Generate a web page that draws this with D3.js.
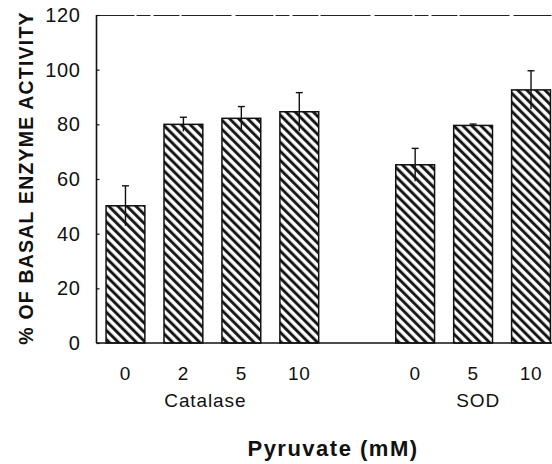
<!DOCTYPE html>
<html>
<head>
<meta charset="utf-8">
<script src="https://cdn.jsdelivr.net/npm/d3@7"></script>
<style>
  html, body { margin: 0; padding: 0; background: #fff; }
  svg { display: block; }
  text { font-family: "Liberation Sans", Arial, Helvetica, sans-serif; fill: #111; }
</style>
</head>
<body>
<svg id="chart" width="552" height="464"></svg>
<script>
// ---- Data ----
const catalaseDoses = ["0", "2", "5", "10"];
const catalaseMeans = [50.2, 80.0, 82.2, 84.6];
const catalaseErrors = [7.3, 2.6, 4.3, 7.0];

const sodDoses = ["0", "5", "10"];
const sodMeans = [65.2, 79.6, 92.6];
const sodErrors = [6.0, 0.5, 7.0];

const groupNames = ["Catalase", "SOD"];
const yTicks = [0, 20, 40, 60, 80, 100, 120];
const yLabel = "% OF BASAL ENZYME ACTIVITY";
const xLabel = "Pyruvate (mM)";

(function () {
// ---- Build rows ----
const rows = [];
catalaseDoses.forEach((d, i) => rows.push({key: "Catalase|" + d, group: "Catalase", dose: d, mean: catalaseMeans[i], err: catalaseErrors[i]}));
const gapKey = "gap";
sodDoses.forEach((d, i) => rows.push({key: "SOD|" + d, group: "SOD", dose: d, mean: sodMeans[i], err: sodErrors[i]}));
const slots = [...catalaseDoses.map(d => "Catalase|" + d), gapKey, ...sodDoses.map(d => "SOD|" + d)];

// ---- Layout ----
const svg = d3.select("#chart");
const mLeft = 96.5, mRight = 560, mTop = 15, mBottom = 343;

const x = d3.scaleBand().domain(slots).range([mLeft, mRight]).paddingInner(0.33).paddingOuter(0.165);
const y = d3.scaleLinear().domain([0, 120]).range([mBottom, mTop]);

// hatch pattern
const defs = svg.append("defs");
const pat = defs.append("pattern")
  .attr("id", "hatch")
  .attr("patternUnits", "userSpaceOnUse")
  .attr("width", 6.4).attr("height", 10)
  .attr("patternTransform", "rotate(-45)");
pat.append("rect").attr("width", 6.4).attr("height", 10).attr("fill", "#fff");
pat.append("line").attr("x1", 1.6).attr("x2", 1.6).attr("y1", -1).attr("y2", 11)
  .attr("stroke", "#111").attr("stroke-width", 2.9);

// top frame line
svg.append("line")
  .attr("x1", mLeft).attr("x2", 552).attr("y1", y(120) + 0.5).attr("y2", y(120) + 0.5)
  .attr("stroke", "#222").attr("stroke-width", 1.1)
  .attr("stroke-dasharray", "38,2,14,3,26,2,50,4");

// bars
svg.append("g").selectAll("rect").data(rows).join("rect")
  .attr("x", d => x(d.key))
  .attr("width", x.bandwidth())
  .attr("y", d => y(d.mean))
  .attr("height", d => y(0) - y(d.mean))
  .attr("fill", "url(#hatch)")
  .attr("stroke", "#111").attr("stroke-width", 1.5);

// error bars
const eg = svg.append("g").attr("stroke", "#111").attr("stroke-width", 1.4);
eg.selectAll("line.v").data(rows).join("line").attr("class", "v")
  .attr("x1", d => x(d.key) + x.bandwidth() / 2).attr("x2", d => x(d.key) + x.bandwidth() / 2)
  .attr("y1", d => y(d.mean + d.err)).attr("y2", d => y(d.mean - d.err));
eg.selectAll("line.c").data(rows).join("line").attr("class", "c")
  .attr("x1", d => x(d.key) + x.bandwidth() / 2 - 3.5).attr("x2", d => x(d.key) + x.bandwidth() / 2 + 3.5)
  .attr("y1", d => y(d.mean + d.err)).attr("y2", d => y(d.mean + d.err));

// y axis
const yAxis = d3.axisLeft(y).tickValues(yTicks).tickSize(-3).tickPadding(16).tickFormat(d3.format("d"));
const yg = svg.append("g").attr("transform", `translate(${mLeft},0)`).call(yAxis);
yg.select(".domain").attr("stroke", "#111").attr("stroke-width", 1.6).attr("d", `M0,${y(120)}V${y(0)}`);
yg.selectAll(".tick line").attr("stroke", "#111").attr("stroke-width", 1.2);
yg.selectAll(".tick text").attr("font-size", 20).attr("fill", "#111")
  .attr("font-family", "'Liberation Sans', Arial, sans-serif").attr("letter-spacing", 0.6);

// x axis baseline
svg.append("line").attr("x1", mLeft).attr("x2", 552).attr("y1", y(0)).attr("y2", y(0))
  .attr("stroke", "#111").attr("stroke-width", 1.6);

// x dose labels
svg.append("g").selectAll("text").data(rows).join("text")
  .attr("x", d => x(d.key) + x.bandwidth() / 2)
  .attr("y", 380)
  .attr("text-anchor", "middle")
  .attr("font-size", 19)
  .attr("letter-spacing", 0.8)
  .text(d => d.dose);

// group labels
const groupOffsets = {Catalase: -7, SOD: 5};
svg.append("g").selectAll("text").data(groupNames).join("text")
  .attr("x", g => {
    const ks = rows.filter(r => r.group === g).map(r => x(r.key) + x.bandwidth() / 2);
    return (d3.min(ks) + d3.max(ks)) / 2 + groupOffsets[g];
  })
  .attr("y", 407)
  .attr("text-anchor", "middle")
  .attr("font-size", 19)
  .attr("letter-spacing", 0.9)
  .text(g => g);

// x title
svg.append("text")
  .attr("x", 333).attr("y", 456)
  .attr("text-anchor", "middle")
  .attr("font-size", 22).attr("font-weight", "bold")
  .attr("letter-spacing", 1.5)
  .text(xLabel);

// y title
svg.append("text")
  .attr("transform", `translate(33,${(13 + 343) / 2}) rotate(-90)`)
  .attr("text-anchor", "middle")
  .attr("font-size", 19.5).attr("font-weight", "bold")
  .attr("letter-spacing", 1.2)
  .text(yLabel);
})();
</script>
</body>
</html>
